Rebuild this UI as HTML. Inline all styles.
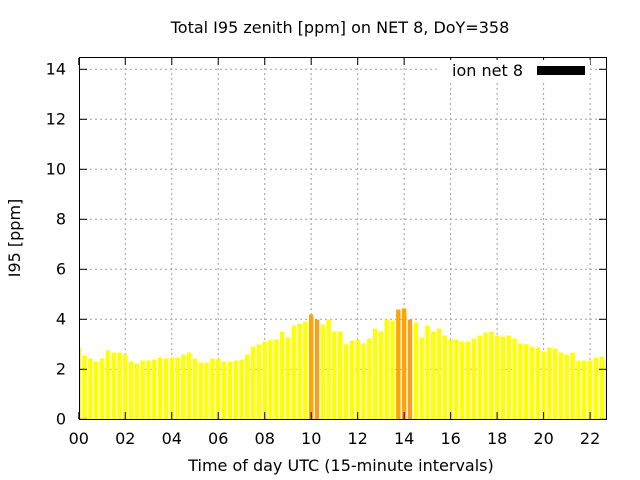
<!DOCTYPE html>
<html><head><meta charset="utf-8"><style>
body{margin:0;background:#fff;}
svg{display:block;font-family:"DejaVu Sans","Liberation Sans",sans-serif;}
</style></head><body>
<svg id="s" width="640" height="480" xmlns="http://www.w3.org/2000/svg">
<rect width="640" height="480" fill="#fff"/>
<g id="grid" stroke="#a0a0a0" stroke-dasharray="2,3" stroke-width="1"></g>
<g id="bars"></g>
<rect x="79.5" y="57.5" width="527" height="362" fill="none" stroke="#000" stroke-width="1"/>
<g id="ticks" stroke="#000"></g>
<g id="labels" font-size="16" fill="#000"></g>
<text x="340" y="33" font-size="16" text-anchor="middle">Total I95 zenith [ppm] on NET 8, DoY=358</text>
<text x="341" y="471" font-size="16" text-anchor="middle">Time of day UTC (15-minute intervals)</text>
<text transform="translate(20,238) rotate(-90)" font-size="16" text-anchor="middle">I95 [ppm]</text>
<rect x="440" y="60" width="150" height="20" fill="#fff"/>
<text x="523" y="76" font-size="16" text-anchor="end">ion net 8</text>
<rect x="537" y="66" width="48" height="9" fill="#000"/>
</svg>
<script>
var v=[2.86,2.55,2.43,2.31,2.43,2.75,2.67,2.67,2.59,2.31,2.23,2.35,2.35,2.39,2.47,2.43,2.47,2.47,2.59,2.67,2.43,2.27,2.27,2.43,2.43,2.31,2.31,2.35,2.39,2.59,2.91,2.99,3.11,3.19,3.19,3.51,3.27,3.75,3.83,3.91,4.19,3.99,3.79,3.99,3.51,3.51,3.0,3.15,3.19,3.03,3.23,3.63,3.51,3.99,3.95,4.39,4.43,3.99,3.87,3.27,3.75,3.51,3.63,3.35,3.19,3.19,3.11,3.11,3.23,3.35,3.47,3.51,3.35,3.31,3.35,3.23,3.03,3.0,2.91,2.87,2.71,2.87,2.83,2.67,2.59,2.67,2.35,2.35,2.35,2.47,2.51,2.31];
var orange={40:1,41:1,55:1,56:1,57:1};
var ns="http://www.w3.org/2000/svg";
function el(p,t,a,txt){var e=document.createElementNS(ns,t);for(var k in a)e.setAttribute(k,a[k]);if(txt!==undefined)e.textContent=txt;document.getElementById(p).appendChild(e);}
var x0=78.8,dx=5.81,y0=419.3,dy=25;
for(var i=0;i<v.length;i++){var cx=x0+i*dx;var l=Math.max(cx-2.2,80),r=Math.min(cx+2.2,606);if(r<=l)continue;
el("bars","rect",{x:l,y:y0-v[i]*dy,width:r-l,height:v[i]*dy,fill:orange[i]?(i==41||i==57?"#f4a020":"#ffa500"):"#ffff00"});}
for(var k=1;k<=7;k++){var y=y0-2*k*dy;el("grid","line",{x1:80,x2:606,y1:y,y2:y});}
for(var k=1;k<=11;k++){var x=x0+k*8*dx;el("grid","line",{x1:x,x2:x,y1:58,y2:419});}
for(var k=0;k<=7;k++){var y=y0-2*k*dy;el("ticks","line",{x1:80,x2:87,y1:y,y2:y});el("ticks","line",{x1:599,x2:606,y1:y,y2:y});
el("labels","text",{x:66,y:y+5,"text-anchor":"end"},String(2*k));}
for(var k=0;k<=11;k++){var x=x0+k*8*dx;el("ticks","line",{x1:x,x2:x,y1:419,y2:412});el("ticks","line",{x1:x,x2:x,y1:58,y2:65});
el("labels","text",{x:x,y:444,"text-anchor":"middle"},(2*k<10?"0":"")+(2*k));}
</script>
</body></html>
